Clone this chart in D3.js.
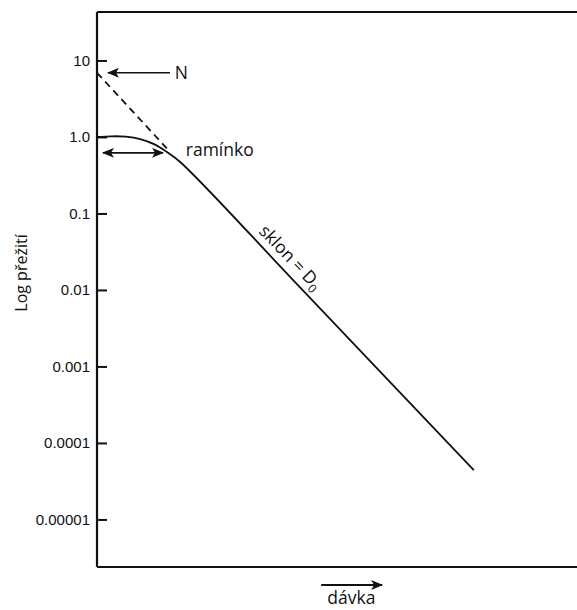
<!DOCTYPE html>
<html lang="cs">
<head>
  <meta charset="UTF-8">
  <title>Log přežití vs dávka</title>
  <script src="https://d3js.org/d3.v7.min.js"></script>
  <style>
    body {
      margin: 0;
      background: #fff;
      font-family: "Open Sans", Arial, sans-serif;
    }
    .axis path, .axis line {
      stroke: #111;
      stroke-width: 2px;
    }
    .axis text {
      font-size: 15px;
      fill: #111;
    }
    .note {
      font-size: 17.5px;
      fill: #111;
    }
  </style>
</head>
<body>
  <div id="chart"></div>

  <script>
    // tick values and their printed labels
    const tickValues = [10, 1, 0.1, 0.01, 0.001, 0.0001, 0.00001];
    const tickLabels = ["10", "1.0", "0.1", "0.01", "0.001", "0.0001", "0.00001"];

    // survival curve (dose in arbitrary units)
    const curveDose = [0, 0.3, 0.6, 0.9, 1.2, 1.45, 1.75, 4.23, 7.85];
    const curveSurv = [1.0, 1.02, 1.01, 0.94, 0.80, 0.64, 0.46, 0.0108, 0.000044];

    // dashed extrapolation back to the axis (N)
    const extrapDose = [0, 1.52];
    const extrapSurv = [6.9, 0.64];

    const margin = { top: 12, right: 0, bottom: 43, left: 97 };
    const width = 577 - margin.left - margin.right;
    const height = 610 - margin.top - margin.bottom;

    const x = d3.scaleLinear().domain([0, 10]).range([0, width]);
    const y = d3.scaleLog().domain([2.39e-6, 43]).range([height, 0]);

    const svg = d3.select("#chart").append("svg")
      .attr("width", 577)
      .attr("height", 610)
      .append("g")
      .attr("transform", `translate(${margin.left},${margin.top})`);

    // arrow head (tip sits on the line end, reversed at the start)
    svg.append("defs").append("marker")
      .attr("id", "arrow")
      .attr("viewBox", "0 0 12 10")
      .attr("refX", 11)
      .attr("refY", 5)
      .attr("markerWidth", 12)
      .attr("markerHeight", 10)
      .attr("markerUnits", "userSpaceOnUse")
      .attr("orient", "auto-start-reverse")
      .append("path")
      .attr("d", "M0,0 L12,5 L0,10 L3,5 Z")
      .attr("fill", "#111");

    // frame: left axis with ticks, top and bottom lines
    svg.append("g")
      .attr("class", "axis")
      .call(d3.axisLeft(y)
        .tickValues(tickValues)
        .tickFormat((d, i) => tickLabels[i])
        .tickSize(-10)
        .tickPadding(7))
      .call(g => g.select(".domain").remove());

    svg.append("line")
      .attr("x1", 0).attr("x2", 0)
      .attr("y1", 0).attr("y2", height)
      .attr("stroke", "#111").attr("stroke-width", 2.2);
    svg.append("line")
      .attr("x1", 0).attr("x2", width)
      .attr("y1", 0).attr("y2", 0)
      .attr("stroke", "#111").attr("stroke-width", 2.2);
    svg.append("line")
      .attr("x1", 0).attr("x2", width)
      .attr("y1", height).attr("y2", height)
      .attr("stroke", "#111").attr("stroke-width", 2.2);

    // survival curve
    const line = d3.line()
      .x(d => x(d[0]))
      .y(d => y(d[1]))
      .curve(d3.curveCatmullRom.alpha(0.5));

    svg.append("path")
      .datum(d3.zip(curveDose, curveSurv))
      .attr("d", line)
      .attr("fill", "none")
      .attr("stroke", "#111")
      .attr("stroke-width", 1.8);

    svg.append("path")
      .datum(d3.zip(extrapDose, extrapSurv))
      .attr("d", d3.line().x(d => x(d[0])).y(d => y(d[1])))
      .attr("fill", "none")
      .attr("stroke", "#111")
      .attr("stroke-width", 1.8)
      .attr("stroke-dasharray", "7,5");

    // N arrow
    svg.append("line")
      .attr("x1", x(1.52)).attr("x2", x(0.23))
      .attr("y1", y(6.9)).attr("y2", y(6.9))
      .attr("stroke", "#111").attr("stroke-width", 1.5)
      .attr("marker-end", "url(#arrow)");
    svg.append("text")
      .attr("class", "note")
      .attr("x", x(1.62))
      .attr("y", y(6.9))
      .attr("dy", "0.35em")
      .text("N");

    // shoulder double arrow
    svg.append("line")
      .attr("x1", x(0.125)).attr("x2", x(1.375))
      .attr("y1", y(0.62)).attr("y2", y(0.62))
      .attr("stroke", "#111").attr("stroke-width", 1.8)
      .attr("marker-start", "url(#arrow)")
      .attr("marker-end", "url(#arrow)");
    svg.append("text")
      .attr("class", "note")
      .attr("x", x(1.85))
      .attr("y", y(0.565))
      .text("ramínko");

    // slope label along the straight part
    const angle = Math.atan2(y(curveSurv[8]) - y(curveSurv[6]), x(curveDose[8]) - x(curveDose[6])) * 180 / Math.PI;
    const slope = svg.append("text")
      .attr("class", "note")
      .attr("text-anchor", "middle")
      .attr("dy", "0.35em")
      .attr("transform", `translate(${x(4.035)},${y(0.0267)}) rotate(${angle})`);
    slope.append("tspan").text("sklon = D");
    slope.append("tspan").attr("dy", "4").style("font-size", "12px").text("0");

    // y axis title
    svg.append("text")
      .attr("class", "note")
      .attr("transform", `translate(${21 - margin.left},${261}) rotate(-90)`)
      .attr("text-anchor", "middle")
      .attr("dy", "0.35em")
      .style("font-size", "16px")
      .text("Log přežití");

    // x axis title with arrow
    svg.append("line")
      .attr("x1", x(4.67)).attr("x2", x(5.94))
      .attr("y1", height + 18).attr("y2", height + 18)
      .attr("stroke", "#111").attr("stroke-width", 2)
      .attr("marker-end", "url(#arrow)");
    svg.append("text")
      .attr("class", "note")
      .attr("x", x(5.3))
      .attr("y", height + 37)
      .attr("text-anchor", "middle")
      .text("dávka");
  </script>
</body>
</html>
